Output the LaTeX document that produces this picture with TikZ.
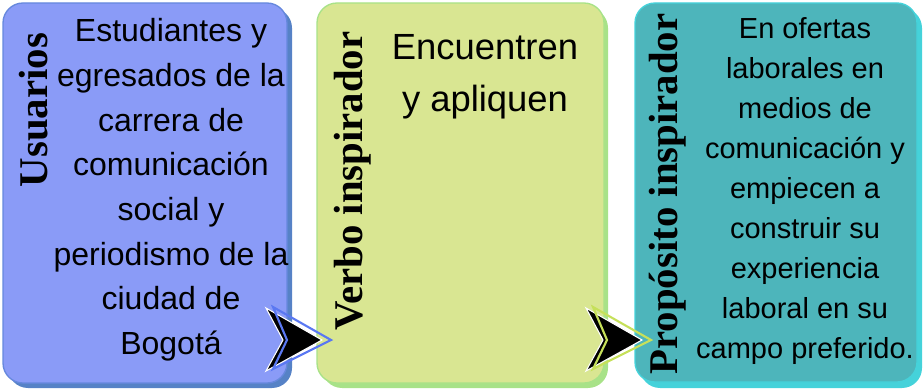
\documentclass[tikz,border=0pt]{standalone}
\usepackage{fontspec}
\setmainfont{Liberation Sans}
\newfontfamily\titlefont{Liberation Serif}
\definecolor{bAfill}{HTML}{8A9BF7}
\definecolor{bAline}{HTML}{6688DD}
\definecolor{bAshad}{HTML}{5682C6}
\definecolor{bBfill}{HTML}{D9E692}
\definecolor{bBline}{HTML}{A8E288}
\definecolor{bCfill}{HTML}{4DB5BB}
\definecolor{bCline}{HTML}{45D2DA}
\definecolor{chA}{HTML}{5A78F2}
\definecolor{chB}{HTML}{C6E05A}
\tikzset{
  boxshape/.style={rounded corners=15pt, line width=1pt},
  titletext/.style={font=\titlefont\bfseries\fontsize{30.6}{34}\selectfont, rotate=90, inner sep=0pt},
  chevfill/.style={fill=black, draw=white, line width=0.8pt},
  chevline/.style={draw, line width=1.6pt, line join=miter},
}
\begin{document}
\begin{tikzpicture}[x=0.75pt,y=-0.75pt]
\useasboundingbox (0,0) rectangle (924,391);
% box 1
\fill[bAshad, rounded corners=15pt] (8,8) rectangle (292,388);
\filldraw[boxshape, fill=bAfill, draw=bAline] (3,3) rectangle (287,383);
% box 2
\fill[bBline, rounded corners=15pt] (322,8) rectangle (608,388);
\filldraw[boxshape, fill=bBfill, draw=bBline] (317,3) rectangle (604,383);
% box 3
\fill[bCline, rounded corners=15pt] (640,8) rectangle (922,388);
\filldraw[boxshape, fill=bCfill, draw=bCline] (635,3) rectangle (917,382);
% titles
\node[titletext] (t1) at (34,110) {Usuarios};
\node[titletext] (t2) at (353,181) {Verbo inspirador};
\node[titletext] (t3) at (668,194) {Propósito inspirador};
% texts
\node[align=center, inner sep=0pt, font=\fontsize{24}{33.5}\selectfont] (x1) at (171,190)
  {Estudiantes y\\egresados de la\\carrera de\\comunicación\\social y\\periodismo de la\\ciudad de\\Bogotá};
\node[align=center, inner sep=0pt, font=\fontsize{27.3}{39}\selectfont] (x2) at (485,77)
  {Encuentren\\y apliquen};
\node[align=center, inner sep=0pt, font=\fontsize{21.75}{30}\selectfont] (x3) at (805,191)
  {En ofertas\\laborales en\\medios de\\comunicación y\\empiecen a\\construir su\\experiencia\\laboral en su\\campo preferido.};
% chevrons
\filldraw[chevfill] (266,308) -- (322,340) -- (266,371) -- (283,340) -- cycle;
\draw[chevline, chA] (273,307) -- (331,340) -- (273,369) -- (287,340) -- cycle;
\filldraw[chevfill] (586,308) -- (642,340) -- (586,371) -- (603,340) -- cycle;
\draw[chevline, chB] (593,307) -- (651,340) -- (593,369) -- (607,340) -- cycle;
\end{tikzpicture}
\end{document}
